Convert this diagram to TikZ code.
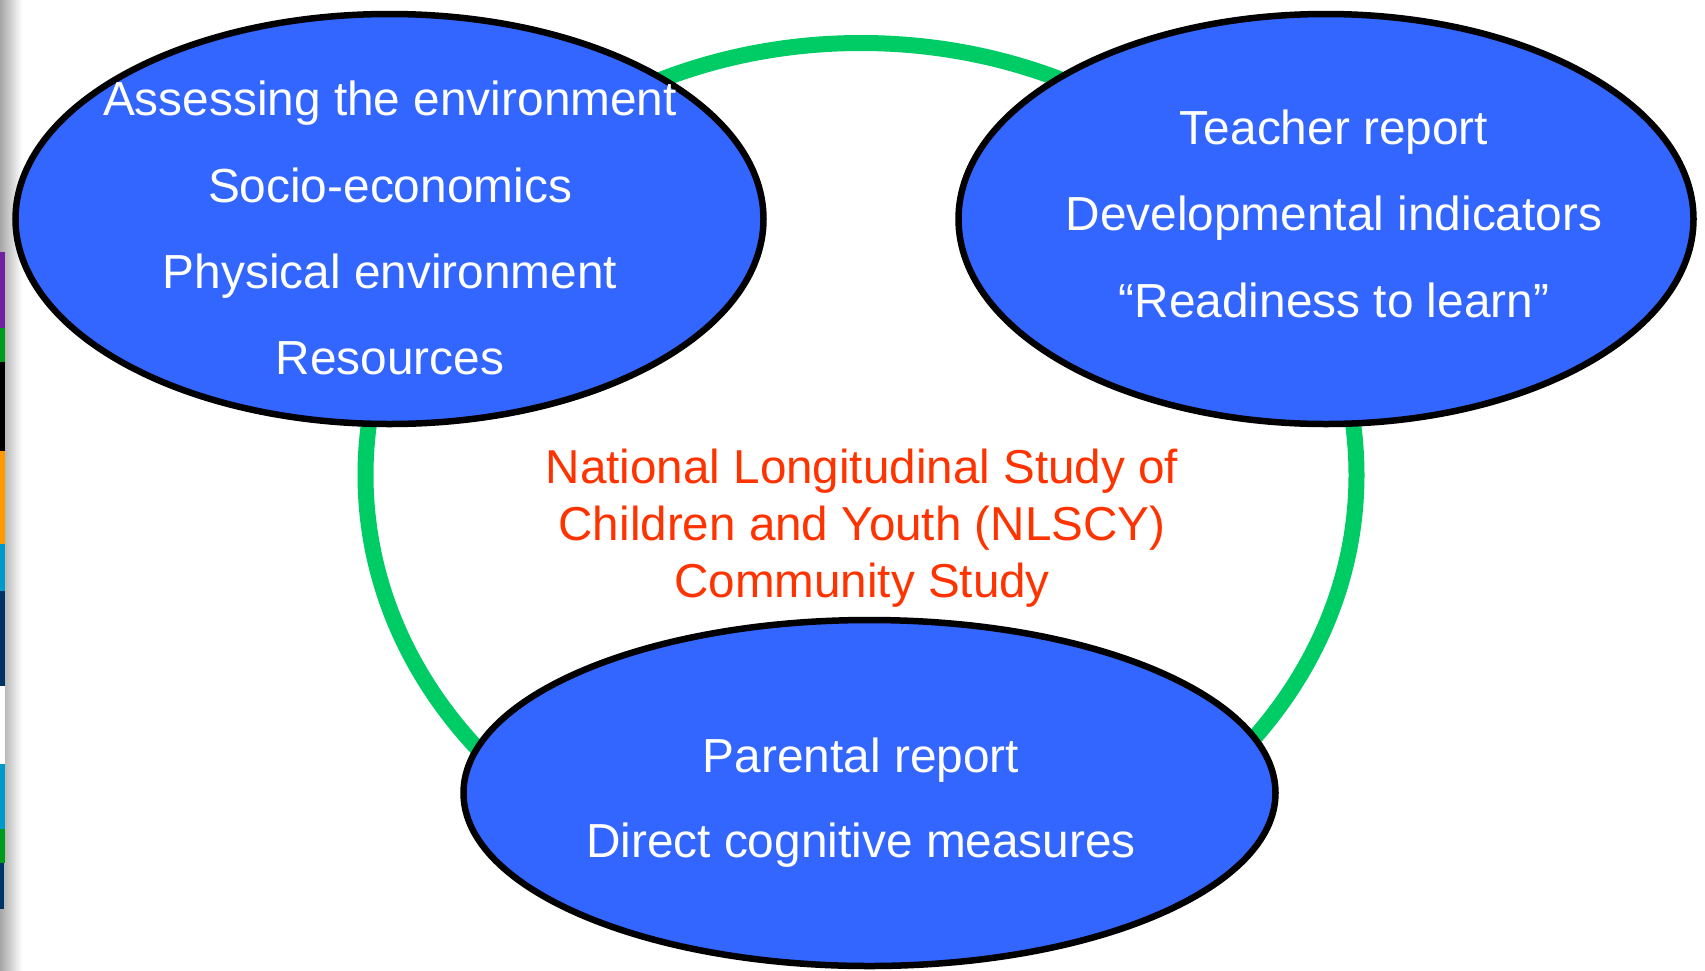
\documentclass[tikz,border=0pt]{standalone}
\usepackage{fontspec}
\setmainfont{Liberation Sans}
\usetikzlibrary{shapes.geometric}
\definecolor{fillblue}{HTML}{3366FF}
\definecolor{ringgreen}{HTML}{00CC66}
\definecolor{titlered}{HTML}{FF3300}
\definecolor{sPurple}{HTML}{7020A0}
\definecolor{sGreen}{HTML}{009A1A}
\definecolor{sOrange}{HTML}{FF9900}
\definecolor{sCyan}{HTML}{0099CC}
\definecolor{sNavy}{HTML}{003366}
\tikzset{
  blob/.style={ellipse, draw=black, line width=6.5pt, fill=fillblue, inner sep=0pt},
  ring/.style={ellipse, draw=ringgreen, line width=16pt, inner sep=0pt},
  wtext/.style={text=white, font=\fontsize{47.8}{57.6}\selectfont, inner sep=0pt, anchor=base},
  rtext/.style={text=titlered, font=\fontsize{47.6}{57}\selectfont, inner sep=0pt, anchor=base},
}
\begin{document}
\begin{tikzpicture}[x=1pt,y=-1pt]
\useasboundingbox (0,0) rectangle (1705,970);
\fill[white] (0,0) rectangle (1705,970);
% left page edge
\shade[left color=gray!70, right color=white] (0,0) rectangle (22,970);
\fill[sPurple] (0,252) rectangle (5,328);
\fill[sGreen]  (0,328) rectangle (5,362);
\fill[black]   (0,362) rectangle (5,451);
\fill[sOrange] (0,451) rectangle (5,544);
\fill[sCyan]   (0,544) rectangle (5,591);
\fill[sNavy]   (0,591) rectangle (5,686);
\fill[white]   (0,686) rectangle (5,764);
\fill[sCyan]   (0,764) rectangle (5,829);
\fill[sGreen]  (0,829) rectangle (5,863);
\fill[sNavy]   (0,863) rectangle (4,909);
% green ring
\node[ring, minimum width=991pt, minimum height=864pt] (ring) at (861,475) {};
% ellipses
\node[blob, minimum width=748pt, minimum height=410pt] (env) at (389.5,219) {};
\node[blob, minimum width=735pt, minimum height=410pt] (teach) at (1326,219) {};
\node[blob, minimum width=812pt, minimum height=346pt] (par) at (869.5,793) {};
% texts
\node[wtext] (e1) at (390,115) {Assessing the environment};
\node[wtext] (e2) at (390,202) {Socio-economics};
\node[wtext] (e3) at (390,288) {Physical environment};
\node[wtext] (e4) at (390,374) {Resources};
\node[wtext] (t1) at (1334,144) {Teacher report};
\node[wtext] (t2) at (1334,230) {Developmental indicators};
\node[wtext] (t3) at (1334,317) {“Readiness to learn”};
\node[wtext] (p1) at (861,772) {Parental report};
\node[wtext] (p2) at (861,857) {Direct cognitive measures};
\node[rtext] (title1) at (862,483) {National Longitudinal Study of};
\node[rtext] (title2) at (862,540) {Children and Youth (NLSCY)};
\node[rtext] (title3) at (862,597) {Community Study};
\end{tikzpicture}
\end{document}
